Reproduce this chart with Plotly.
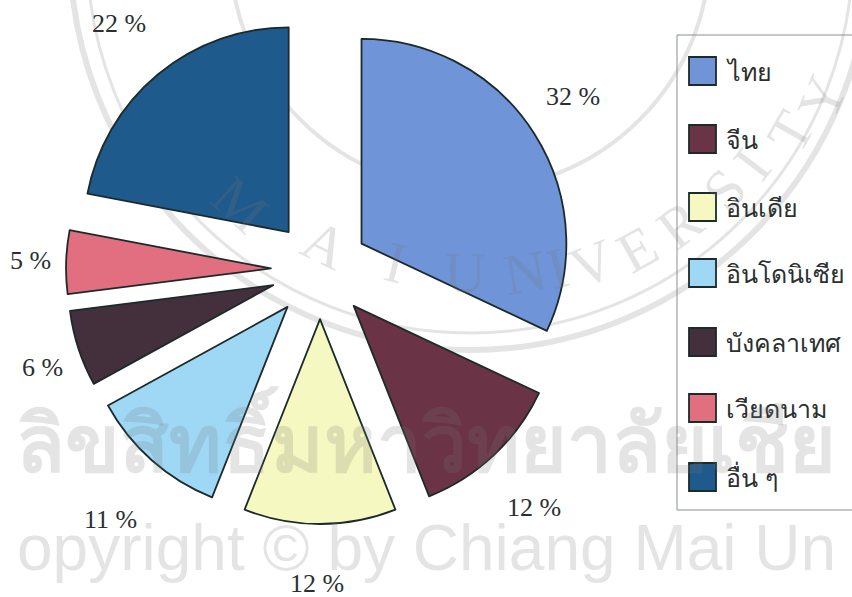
import math
import plotly.graph_objects as go

categories = ["ไทย", "จีน", "อินเดีย", "อินโดนิเซีย", "บังคลาเทศ", "เวียดนาม", "อื่น ๆ"]
values = [32, 12, 12, 11, 6, 5, 22]
colors = ["#6f94d8", "#6b3346", "#f5f8c0", "#9ed8f5", "#44303c", "#e26f80", "#1f5a8c"]
label_px = [(573, 97), (534, 508), (317, 583), (110, 519), (42, 367), (30, 260), (119, 24)]
legend_y = [71, 139, 207, 273, 342, 408, 477]
seal_letters = list("MAIUNIVERSITY")
seal_px = [(240, 205), (325, 245), (395, 262), (465, 272), (525, 272), (557, 268), (592, 263),
           (637, 250), (680, 225), (725, 190), (752, 165), (790, 132), (822, 98)]
W, H = 852, 597
px = lambda x: x / W
py = lambda y: 1 - y / H
TF = "Liberation Serif"
TH = "Noto Sans, DejaVu Sans, sans-serif"
WM = "rgba(120,120,120,0.2)"
CX, CY = 470, -50

fig = go.Figure(go.Pie(
    labels=categories, values=values, sort=False, direction="clockwise", rotation=0,
    pull=[0.24] * len(values), textinfo="none", hoverinfo="label+percent",
    marker=dict(colors=colors, line=dict(color="#1c2a2a", width=1.8)),
    domain=dict(x=[px(66), px(574)], y=[py(524), py(16)]), showlegend=False,
))

shapes = [dict(type="rect", xref="paper", yref="paper", x0=px(677), x1=px(860), y0=py(510), y1=py(35),
               line=dict(color="#8a9090", width=1), fillcolor="rgba(0,0,0,0)")]
for r, w in [(400, 6), (383, 3), (240, 4)]:
    shapes.append(dict(type="circle", xref="paper", yref="paper", x0=px(CX - r), x1=px(CX + r),
                       y0=py(CY + r), y1=py(CY - r),
                       line=dict(color="rgba(130,130,130,0.22)", width=w), layer="below"))
annotations = []
for name, c, y in zip(categories, colors, legend_y):
    shapes.append(dict(type="rect", xref="paper", yref="paper", x0=px(689), x1=px(716), y0=py(y + 14), y1=py(y - 14),
                       line=dict(color="#1c2a2a", width=1.8), fillcolor=c))
    annotations.append(dict(x=px(724), y=py(y), xref="paper", yref="paper", text=name, showarrow=False,
                            xanchor="left", yanchor="middle", font=dict(family=TH, size=25, color="#2a3030")))
for v, (x, y) in zip(values, label_px):
    annotations.append(dict(x=px(x), y=py(y), xref="paper", yref="paper", text=f"{v} %", showarrow=False,
                            xanchor="center", yanchor="middle", font=dict(family=TF, size=26, color="#2a3030")))
for ch, (x, y) in zip(seal_letters, seal_px):
    ang = math.degrees(math.atan2(CX - x, y - CY))
    annotations.append(dict(x=px(x), y=py(y), xref="paper", yref="paper", text=ch, showarrow=False,
                            xanchor="center", yanchor="middle",
                            textangle=ang, font=dict(family=TF, size=58, color=WM)))
annotations.append(dict(x=px(426), y=py(440), xref="paper", yref="paper", text="<b>ลิขสิทธิ์มหาวิทยาลัยเชีย</b>",
                        showarrow=False, xanchor="center", yanchor="middle",
                        font=dict(family=TH, size=80, color=WM)))
annotations.append(dict(x=px(426), y=py(548), xref="paper", yref="paper", text="opyright © by Chiang Mai Un",
                        showarrow=False, xanchor="center", yanchor="middle",
                        font=dict(family="Liberation Sans", size=64, color=WM)))

fig.update_layout(width=W, height=H, margin=dict(l=0, r=0, t=0, b=0), paper_bgcolor="white",
                  shapes=shapes, annotations=annotations)
fig.write_html("out.html", config=dict(displayModeBar=False),
               post_script="document.body.style.margin='0';document.body.style.overflow='hidden';")
